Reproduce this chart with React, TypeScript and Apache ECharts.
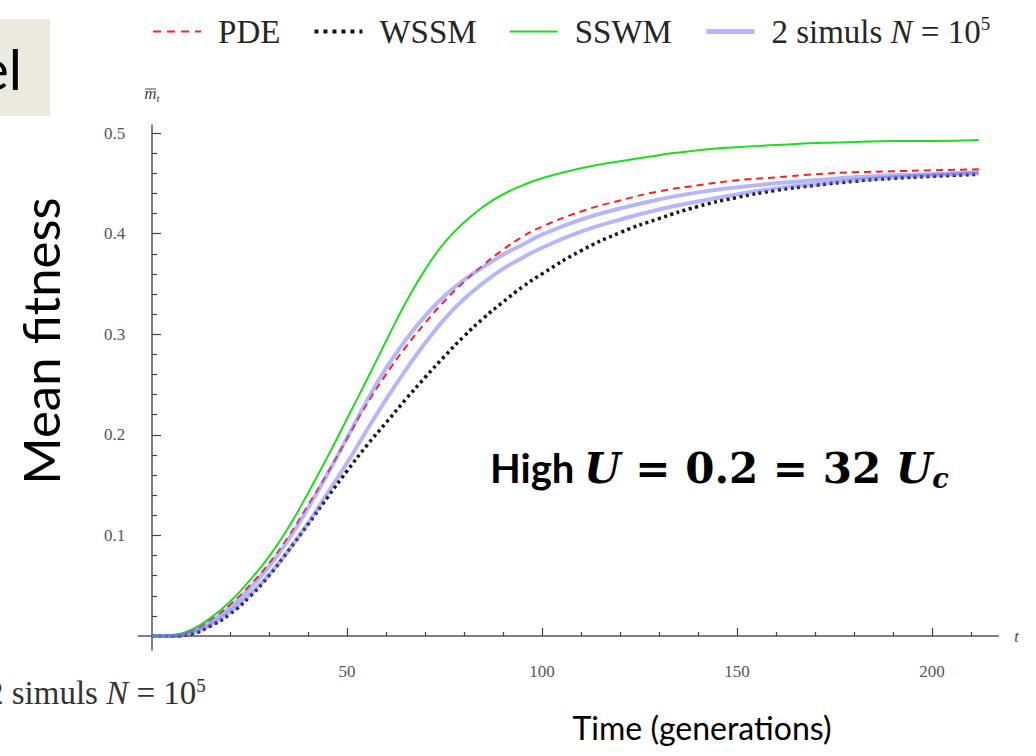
import React, { useEffect, useRef } from 'react';
import * as echarts from 'echarts';

// Time (generations)
const T = [0, 5, 10, 15, 20, 25, 30, 35, 40, 45, 50, 55, 60, 65, 70, 75, 80, 85, 90, 95, 100, 110, 120, 130, 140, 150, 160, 170, 180, 190, 200, 212];
// Mean fitness curves
const PDE = [0, 0.001, 0.005, 0.016, 0.031, 0.050, 0.072, 0.099, 0.130, 0.162, 0.196, 0.230, 0.260, 0.287, 0.311, 0.333, 0.352, 0.369, 0.384, 0.397, 0.407, 0.422, 0.433, 0.442, 0.448, 0.453, 0.456, 0.459, 0.461, 0.462, 0.463, 0.464];
const WSSM = [0, 0.000, 0.002, 0.010, 0.022, 0.039, 0.060, 0.085, 0.111, 0.138, 0.164, 0.189, 0.212, 0.235, 0.257, 0.278, 0.298, 0.316, 0.332, 0.347, 0.360, 0.383, 0.401, 0.415, 0.427, 0.436, 0.443, 0.448, 0.452, 0.455, 0.457, 0.459];
const SSWM = [0, 0.001, 0.006, 0.018, 0.034, 0.055, 0.079, 0.108, 0.142, 0.178, 0.216, 0.254, 0.293, 0.331, 0.364, 0.391, 0.411, 0.427, 0.439, 0.448, 0.455, 0.465, 0.472, 0.478, 0.483, 0.486, 0.488, 0.490, 0.491, 0.492, 0.492, 0.493];
const SIM1 = [0, 0.000, 0.004, 0.014, 0.028, 0.047, 0.069, 0.096, 0.127, 0.161, 0.197, 0.233, 0.266, 0.294, 0.318, 0.338, 0.354, 0.367, 0.379, 0.389, 0.399, 0.414, 0.425, 0.434, 0.441, 0.446, 0.450, 0.453, 0.456, 0.458, 0.459, 0.461];
const SIM2 = [0, 0.000, 0.003, 0.011, 0.024, 0.041, 0.061, 0.085, 0.112, 0.142, 0.172, 0.204, 0.235, 0.264, 0.291, 0.315, 0.335, 0.351, 0.365, 0.376, 0.386, 0.402, 0.414, 0.424, 0.432, 0.439, 0.445, 0.449, 0.453, 0.456, 0.458, 0.460];

// Tick values
const X_MAJOR = [50, 100, 150, 200];
const X_MINOR = [10, 20, 30, 40, 60, 70, 80, 90, 110, 120, 130, 140, 160, 170, 180, 190, 210];
const Y_MAJOR = [0.1, 0.2, 0.3, 0.4, 0.5];
const Y_MINOR = [0.02, 0.04, 0.06, 0.08, 0.12, 0.14, 0.16, 0.18, 0.22, 0.24, 0.26, 0.28, 0.32, 0.34, 0.36, 0.38, 0.42, 0.44, 0.46, 0.48];

const SERIF = 'Liberation Serif';
const SANS = 'Lato';

const pair = (ys: number[]) => T.map((t, i) => [t, ys[i]]);

export default function App() {
  const ref = useRef<HTMLDivElement>(null);
  useEffect(() => {
    const chart = echarts.init(ref.current!, null, { renderer: 'svg' });
    const tickLine = { color: '#444', width: 1.2 };
    const simStyle = { color: 'rgba(110,110,242,0.5)', width: 4 };
    const option: any = {
      animation: false,
      backgroundColor: '#ffffff',
      grid: { left: 138.35, right: 37.7, top: 125, bottom: 105.9 },
      legend: {
        left: 147,
        top: 9,
        itemWidth: 48,
        itemHeight: 16,
        itemGap: 32,
        itemStyle: { opacity: 0 },
        data: [
          { name: 'PDE', lineStyle: { width: 2.2, type: [8, 6] } },
          { name: 'WSSM', lineStyle: { width: 4, type: [4, 5] } },
          { name: 'SSWM', lineStyle: { width: 2.2 } },
          { name: 'simuls', lineStyle: { width: 5 } },
        ],
        formatter: (n: string) => (n === 'simuls' ? '2 simuls {i|N} = 10{s|5}' : n),
        textStyle: {
          fontFamily: SERIF,
          fontSize: 33,
          color: '#262626',
          padding: [0, 0, 0, 12],
          rich: {
            i: { fontFamily: SERIF, fontSize: 33, fontStyle: 'italic', color: '#262626' },
            s: { fontFamily: SERIF, fontSize: 19, color: '#262626', verticalAlign: 'top', padding: [0, 0, 16, 0] },
          },
        },
      },
      xAxis: [
        {
          type: 'value', min: -3.5, max: 217, position: 'bottom',
          axisLine: { show: true, onZero: true, onZeroAxisIndex: 0, lineStyle: { color: '#555', width: 1.5 } },
          axisTick: { show: true, inside: true, length: 8, customValues: X_MAJOR, lineStyle: tickLine },
          axisLabel: { show: true, customValues: X_MAJOR, margin: 13, fontFamily: SERIF, fontSize: 17, color: '#555' },
          splitLine: { show: false },
          name: 't', nameLocation: 'end', nameGap: 16,
          nameTextStyle: { fontFamily: SERIF, fontStyle: 'italic', fontSize: 16, color: '#444' },
        },
        {
          type: 'value', min: -3.5, max: 217, position: 'bottom',
          axisLine: { show: false, onZero: true, onZeroAxisIndex: 0 },
          axisTick: { show: true, inside: true, length: 4, customValues: X_MINOR, lineStyle: tickLine },
          axisLabel: { show: false },
          splitLine: { show: false },
        },
      ],
      yAxis: [
        {
          type: 'value', min: -0.014, max: 0.508, position: 'left',
          axisLine: { show: true, onZero: true, onZeroAxisIndex: 0, lineStyle: { color: '#555', width: 1.5 } },
          axisTick: { show: true, inside: true, length: 9, customValues: Y_MAJOR, lineStyle: tickLine },
          axisLabel: { show: true, customValues: Y_MAJOR, margin: 13, fontFamily: SERIF, fontSize: 17, color: '#555' },
          splitLine: { show: false },
          name: '{m|m}{t|t}', nameLocation: 'end', nameGap: 22,
          nameTextStyle: {
            align: 'center',
            rich: {
              m: { fontFamily: SERIF, fontStyle: 'italic', fontSize: 17, color: '#444' },
              t: { fontFamily: SERIF, fontStyle: 'italic', fontSize: 11, color: '#444', padding: [8, 0, 0, 0] },
            },
          },
        },
        {
          type: 'value', min: -0.014, max: 0.508, position: 'left',
          axisLine: { show: false, onZero: true, onZeroAxisIndex: 0 },
          axisTick: { show: true, inside: true, length: 5, customValues: Y_MINOR, lineStyle: tickLine },
          axisLabel: { show: false },
          splitLine: { show: false },
        },
      ],
      series: [
        {
          name: 'PDE', type: 'line', data: pair(PDE), smooth: true, symbol: 'none',
          lineStyle: { color: '#ff2020', width: 2, type: [7, 5] }, itemStyle: { color: '#ff2020' }, z: 2,
        },
        {
          name: 'WSSM', type: 'line', data: pair(WSSM), smooth: true, symbol: 'none',
          lineStyle: { color: '#111', width: 3.5, type: [3, 3.5] }, itemStyle: { color: '#111' }, z: 2,
        },
        {
          name: 'SSWM', type: 'line', data: pair(SSWM), smooth: true, symbol: 'none',
          lineStyle: { color: '#1edc1e', width: 2 }, itemStyle: { color: '#1edc1e' }, z: 2,
        },
        {
          name: 'simuls', type: 'line', data: pair(SIM1), smooth: true, symbol: 'none',
          lineStyle: simStyle, itemStyle: { color: simStyle.color }, z: 3,
        },
        {
          name: 'simuls', type: 'line', data: pair(SIM2), smooth: true, symbol: 'none',
          lineStyle: simStyle, itemStyle: { color: simStyle.color }, z: 3,
        },
      ],
    };
    chart.setOption(option);

    const x0 = chart.convertToPixel({ xAxisIndex: 0 }, 0) as number;
    const yTop = chart.convertToPixel({ yAxisIndex: 0 }, 0.508) as number;
    const overY = yTop - 22 - 14;

    chart.setOption({
      graphic: [
        { type: 'rect', z: -1, shape: { x: 0, y: 19, width: 50, height: 97 }, style: { fill: '#ece9df' } },
        {
          type: 'text', x: 22, y: 68,
          style: { text: 'el', fontFamily: SANS, fontSize: 56, fill: '#000', align: 'right', verticalAlign: 'middle' },
        },
        {
          type: 'line', shape: { x1: x0 - 7, y1: overY, x2: x0 + 4, y2: overY },
          style: { stroke: '#444', lineWidth: 1 },
        },
        {
          type: 'text', x: 40, y: 341, rotation: Math.PI / 2,
          style: { text: 'Mean fitness', fontFamily: SANS, fontSize: 51, fill: '#000', align: 'center', verticalAlign: 'middle' },
        },
        {
          type: 'text', x: 702, y: 727,
          style: { text: 'Time (generations)', fontFamily: SANS, fontSize: 32, fill: '#000', align: 'center', verticalAlign: 'middle' },
        },
        {
          type: 'text', x: -13, y: 693,
          style: {
            text: '2 simuls {i|N} = 10{s|5}', fontFamily: SERIF, fontSize: 33, fill: '#333', verticalAlign: 'middle',
            rich: {
              i: { fontFamily: SERIF, fontSize: 33, fontStyle: 'italic', fill: '#333' },
              s: { fontFamily: SERIF, fontSize: 19, fill: '#333', verticalAlign: 'top', padding: [0, 0, 16, 0] },
            },
          },
        },
        {
          type: 'text', x: 490, y: 468,
          style: {
            text: '{h|High }{u|U}{m| = 0.2 = 32 }{u|U}{c|c}', verticalAlign: 'middle',
            rich: {
              h: { fontFamily: SANS, fontWeight: 'bold', fontSize: 40, fill: '#000' },
              u: { fontFamily: 'DejaVu Serif', fontWeight: 'bold', fontStyle: 'italic', fontSize: 42, fill: '#000' },
              m: { fontFamily: 'DejaVu Serif', fontWeight: 'bold', fontSize: 42, fill: '#000' },
              c: { fontFamily: 'DejaVu Serif', fontWeight: 'bold', fontStyle: 'italic', fontSize: 27, fill: '#000', padding: [20, 0, 0, 0] },
            },
          },
        },
      ],
    });
    return () => chart.dispose();
  }, []);
  return (
    <div
      ref={ref}
      style={{ position: 'fixed', left: 0, top: 0, width: 1036, height: 756, background: '#fff' }}
    />
  );
}
